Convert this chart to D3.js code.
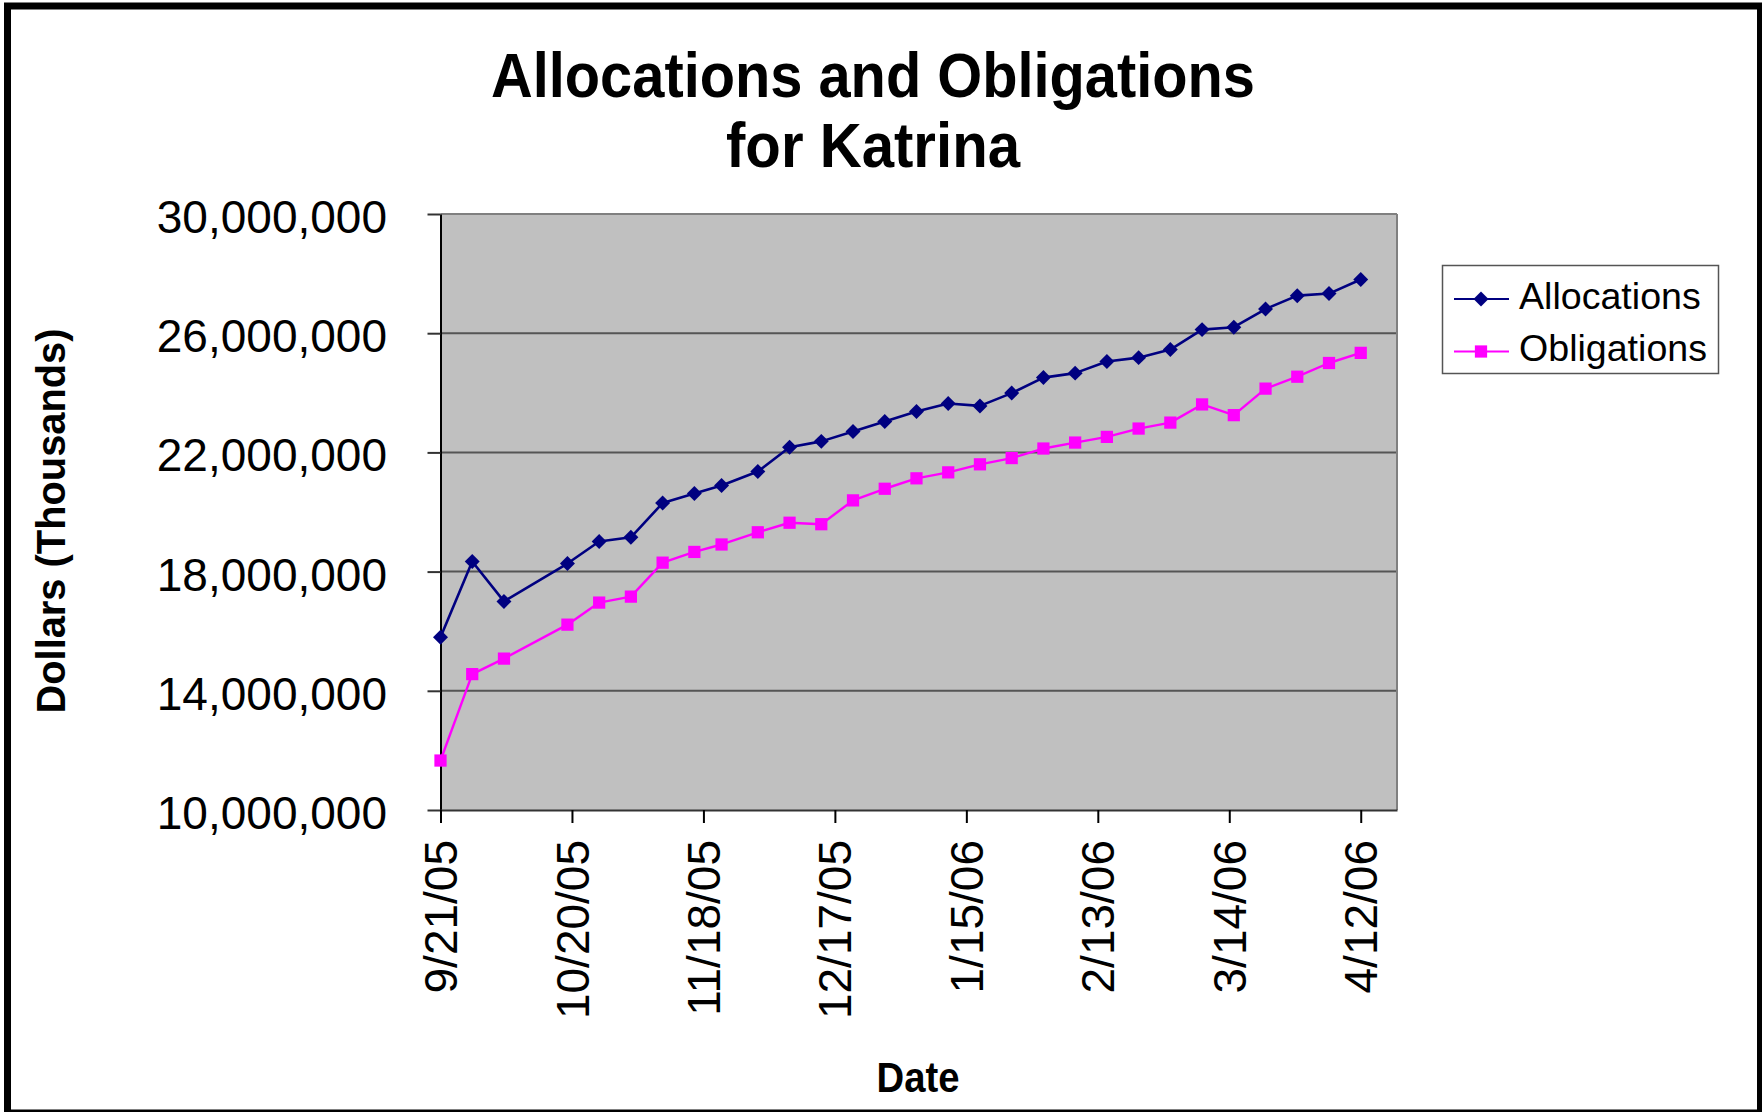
<!DOCTYPE html>
<html><head><meta charset="utf-8">
<script src="https://cdn.jsdelivr.net/npm/d3@7"></script>
<style>body{margin:0;background:#fff} svg{display:block}</style>
</head><body>
<svg id="c" width="1762" height="1112"></svg>
<script>
// ---------- data ----------
const dates = ["2005-09-21","2005-09-28","2005-10-05","2005-10-19","2005-10-26","2005-11-02","2005-11-09","2005-11-16","2005-11-22","2005-11-30","2005-12-07","2005-12-14","2005-12-21","2005-12-28","2006-01-04","2006-01-11","2006-01-18","2006-01-25","2006-02-01","2006-02-08","2006-02-15","2006-02-22","2006-03-01","2006-03-08","2006-03-15","2006-03-22","2006-03-29","2006-04-05","2006-04-12"];
const allocations = [15800000,18340000,17000000,18270000,19010000,19150000,20300000,20620000,20890000,21360000,22170000,22370000,22700000,23040000,23370000,23640000,23560000,23990000,24510000,24660000,25050000,25180000,25450000,26120000,26200000,26810000,27260000,27330000,27800000];
const obligations = [11660000,14560000,15080000,16220000,16960000,17160000,18300000,18660000,18910000,19320000,19640000,19590000,20390000,20780000,21130000,21330000,21600000,21810000,22130000,22330000,22520000,22800000,23000000,23610000,23250000,24140000,24540000,25000000,25340000];
const seriesNames = ["Allocations","Obligations"];
const xTickLabels = ["9/21/05","10/20/05","11/18/05","12/17/05","1/15/06","2/13/06","3/14/06","4/12/06"];
const yTickValues = [10000000,14000000,18000000,22000000,26000000,30000000];
const xDomain = ["2005-09-21","2006-04-20"];
const yDomain = [10000000,30000000];
const titleLines = ["Allocations and Obligations","for Katrina"];
const yAxisTitle = "Dollars (Thousands)";
const xAxisTitle = "Date";

// ---------- layout ----------
const svg = d3.select("#c");
const plot = {left:440.5, right:1397, top:214, bottom:810};
const FONT = "'Liberation Sans', Arial, sans-serif";
const parse = d3.timeParse("%Y-%m-%d");
const parseTick = d3.timeParse("%m/%d/%y");

const x = d3.scaleTime().domain(xDomain.map(parse)).range([plot.left, plot.right]);
const y = d3.scaleLinear().domain(yDomain).range([plot.bottom, plot.top]);

// outer frame
svg.append("rect").attr("x",7.5).attr("y",6).attr("width",1753).attr("height",1107)
  .attr("fill","#fff").attr("stroke","#000").attr("stroke-width",7);

// plot background
svg.append("rect").attr("x",plot.left).attr("y",plot.top)
  .attr("width",plot.right-plot.left).attr("height",plot.bottom-plot.top)
  .attr("fill","#c0c0c0");

// gridlines
svg.append("g").selectAll("line").data(yTickValues.filter(v=>v>yDomain[0])).join("line")
  .attr("x1",plot.left).attr("x2",plot.right)
  .attr("y1",d=>y(d)).attr("y2",d=>y(d))
  .attr("stroke",d=>d===yDomain[1]?"#808080":"#555").attr("stroke-width",2);

// right border
svg.append("line").attr("x1",plot.right).attr("x2",plot.right)
  .attr("y1",plot.top).attr("y2",plot.bottom).attr("stroke","#808080").attr("stroke-width",2);

// y axis
const yAxis = svg.append("g").attr("transform",`translate(${plot.left},0)`)
  .call(d3.axisLeft(y).tickValues(yTickValues).tickSize(13).tickSizeOuter(0)
    .tickPadding(40.5).tickFormat(d3.format(",")));
yAxis.select(".domain").attr("stroke","#000").attr("stroke-width",2);
yAxis.selectAll(".tick line").attr("stroke","#333").attr("stroke-width",2);
yAxis.selectAll("text").attr("font-family",FONT).attr("font-size",46).attr("fill","#000").attr("dy","0.4em");

// x axis
const tickDates = xTickLabels.map(parseTick);
const xAxis = svg.append("g").attr("transform",`translate(0,${plot.bottom})`)
  .call(d3.axisBottom(x).tickValues(tickDates).tickSize(13).tickSizeOuter(0)
    .tickFormat((d,i)=>xTickLabels[i]));
xAxis.select(".domain").attr("stroke","#333").attr("stroke-width",2);
xAxis.selectAll(".tick line").attr("stroke","#000").attr("stroke-width",2);
xAxis.selectAll("text").attr("font-family",FONT).attr("font-size",46).attr("fill","#000")
  .attr("transform","rotate(-90)").attr("x",-30).attr("y",0).attr("dy","0.35em")
  .style("text-anchor","end");

// series
const series = [
  {name:seriesNames[0], values:allocations, color:"#000080", shape:"diamond", width:2.6},
  {name:seriesNames[1], values:obligations, color:"#ff00ff", shape:"square", width:2.4}
];
const line = d3.line().x(d=>x(d.date)).y(d=>y(d.v));
const diamond = d3.symbol().type(d3.symbolSquare).size(112)();
const square = d3.symbol().type(d3.symbolSquare).size(150)();

series.forEach(s=>{
  const pts = dates.map((d,i)=>({date:parse(d), v:s.values[i]}));
  svg.append("path").datum(pts).attr("d",line).attr("fill","none")
    .attr("stroke",s.color).attr("stroke-width",s.width).attr("stroke-linejoin","round");
  svg.append("g").selectAll("path").data(pts).join("path")
    .attr("d", s.shape==="diamond"?diamond:square)
    .attr("transform",d=>`translate(${x(d.date)},${y(d.v)})` + (s.shape==="diamond"?" rotate(45)":""))
    .attr("fill",s.color);
});

// legend
const lg = svg.append("g");
lg.append("rect").attr("x",1442.5).attr("y",265.5).attr("width",276).attr("height",108)
  .attr("fill","#fff").attr("stroke","#555").attr("stroke-width",1.5);
const rowY = [299, 351.5];
series.forEach((s,i)=>{
  lg.append("line").attr("x1",1454).attr("x2",1509).attr("y1",rowY[i]).attr("y2",rowY[i])
    .attr("stroke",s.color).attr("stroke-width",1.8);
  lg.append("path").attr("d", s.shape==="diamond"?diamond:square)
    .attr("transform",`translate(1481,${rowY[i]})` + (s.shape==="diamond"?" rotate(45)":""))
    .attr("fill",s.color);
  lg.append("text").attr("x",1519).attr("y",rowY[i]+9.5).attr("font-family",FONT)
    .attr("font-size",37.6).attr("fill","#000").text(s.name);
});

// titles
const titleY = [97, 167];
const titleW = [764, 294];
titleLines.forEach((t,i)=>{
  svg.append("text").attr("x",873).attr("y",titleY[i]).attr("text-anchor","middle")
    .attr("font-family",FONT).attr("font-weight","bold").attr("font-size",63)
    .attr("textLength",titleW[i]).attr("lengthAdjust","spacingAndGlyphs").text(t);
});

svg.append("text").attr("transform","translate(65,521) rotate(-90)")
  .attr("text-anchor","middle").attr("font-family",FONT).attr("font-weight","bold")
  .attr("font-size",41).attr("textLength",385).attr("lengthAdjust","spacingAndGlyphs").text(yAxisTitle);

svg.append("text").attr("x",918).attr("y",1092).attr("text-anchor","middle")
  .attr("font-family",FONT).attr("font-weight","bold").attr("font-size",42)
  .attr("textLength",83).attr("lengthAdjust","spacingAndGlyphs").text(xAxisTitle);
</script>
</body></html>
